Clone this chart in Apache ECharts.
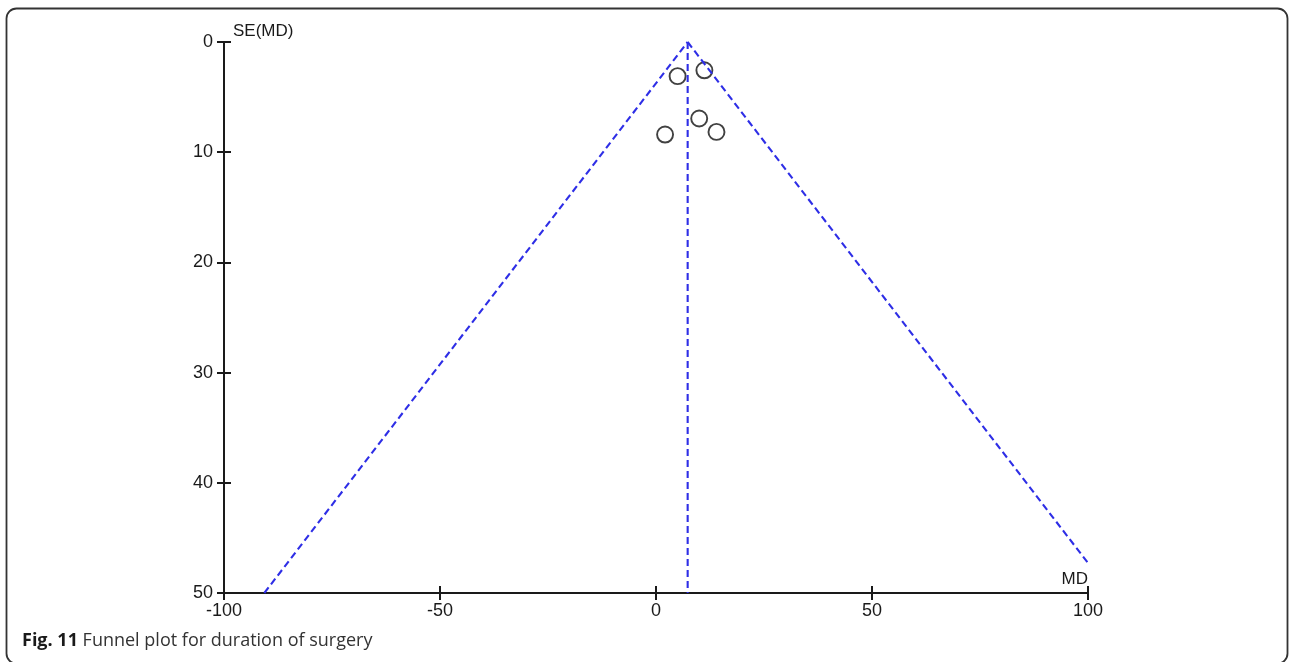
<!DOCTYPE html>
<html>
<head>
<meta charset="utf-8">
<script src="https://cdn.jsdelivr.net/npm/echarts@6/dist/echarts.min.js"></script>
<style>
  html, body { margin: 0; padding: 0; background: #fff; }
  #chart { width: 1289px; height: 662px; }
</style>
</head>
<body>
<div id="chart"></div>
<script>
// Study estimates: mean difference (MD) and its standard error SE(MD)
const studyMD = [5.0, 11.2, 10.0, 2.1, 14.0];
const studySE = [3.1, 2.57, 6.94, 8.4, 8.16];
// Pooled mean difference (apex of the funnel)
const pooledMD = 7.33;
// Axis ranges and tick labels
const xTicks = [-100, -50, 0, 50, 100];
const yTicks = [0, 10, 20, 30, 40, 50];
const xMin = -100, xMax = 100, seMax = 50;

// 95% pseudo-confidence limits: MD ± 1.96·SE, clipped to the x-range
const z = 1.96;
const leftLimit = [[pooledMD - z * seMax, seMax], [pooledMD, 0]];
const rightLimit = [[pooledMD, 0], [xMax, (xMax - pooledMD) / z]];
const centreLine = [[pooledMD, 0], [pooledMD, seMax]];
const points = studyMD.map((m, i) => [m, studySE[i]]);

const axisColor = '#1a1a1a';
const funnelBlue = '#2e2ee6';
const font = 'Liberation Sans, Arial, sans-serif';
const labelSize = 18;

const chart = echarts.init(document.getElementById('chart'));

const dashed = { color: funnelBlue, width: 2.1, type: [7, 4] };
const tickStyle = { color: axisColor, width: 2 };

const baseX = {
  type: 'value', min: xMin, max: xMax, interval: 50,
  splitLine: { show: false },
  axisLine: { show: true, onZero: false, lineStyle: { color: axisColor, width: 2 } }
};
const baseY = {
  type: 'value', min: 0, max: seMax, interval: 10, inverse: true,
  splitLine: { show: false },
  axisLine: { show: true, onZero: false, lineStyle: { color: axisColor, width: 2 } }
};

chart.setOption({
  animation: false,
  backgroundColor: '#fff',
  grid: { left: 224, right: 201, top: 42, bottom: 69, containLabel: false },
  xAxis: [
    Object.assign({}, baseX, {
      position: 'bottom',
      name: 'MD', nameLocation: 'end', nameGap: 0,
      nameTextStyle: { color: axisColor, fontFamily: font, fontSize: 17, align: 'right', verticalAlign: 'bottom', padding: [0, 0, 5, 0] },
      axisTick: { show: true, inside: false, length: 7, lineStyle: tickStyle },
      axisLabel: { color: axisColor, fontFamily: font, fontSize: labelSize, margin: 9,
        formatter: v => xTicks.includes(v) ? String(v) : '' }
    }),
    Object.assign({}, baseX, {
      position: 'bottom',
      axisTick: { show: true, inside: true, length: 7, lineStyle: tickStyle },
      axisLabel: { show: false }
    })
  ],
  yAxis: [
    Object.assign({}, baseY, {
      position: 'left',
      name: 'SE(MD)', nameLocation: 'start', nameGap: 2,
      nameTextStyle: { color: axisColor, fontFamily: font, fontSize: 17, align: 'left', verticalAlign: 'bottom', padding: [0, 0, 0, 9] },
      axisTick: { show: true, inside: false, length: 7, lineStyle: tickStyle },
      axisLabel: { color: axisColor, fontFamily: font, fontSize: labelSize, margin: 11,
        formatter: v => yTicks.includes(v) ? String(v) : '' }
    }),
    Object.assign({}, baseY, {
      position: 'left',
      axisTick: { show: true, inside: true, length: 7, lineStyle: tickStyle },
      axisLabel: { show: false }
    })
  ],
  series: [
    { type: 'line', data: leftLimit, symbol: 'none', lineStyle: dashed, silent: true },
    { type: 'line', data: rightLimit, symbol: 'none', lineStyle: dashed, silent: true },
    { type: 'line', data: centreLine, symbol: 'none', lineStyle: dashed, silent: true },
    {
      type: 'scatter', data: points, symbol: 'circle', symbolSize: 16,
      itemStyle: { color: 'rgba(255,255,255,0)', borderColor: '#111', borderWidth: 1.9 }
    }
  ],
  graphic: [
    {
      type: 'rect', z: 100, silent: true,
      shape: { x: 6.5, y: 8.5, width: 1281, height: 655, r: 10 },
      style: { fill: null, stroke: '#333', lineWidth: 1.8 }
    },
    {
      type: 'text', left: 22, top: 632, z: 100,
      style: {
        text: '{b|Fig. 11} Funnel plot for duration of surgery',
        font: '18px "Open Sans", sans-serif', fill: '#333',
        rich: { b: { font: 'bold 18px "Open Sans", sans-serif', fill: '#1a1a1a' } }
      }
    }
  ]
});
</script>
</body>
</html>
